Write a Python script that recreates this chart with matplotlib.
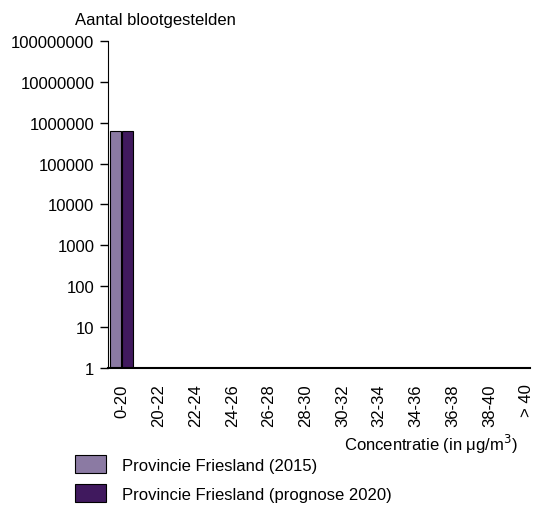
import numpy as np
import matplotlib.pyplot as plt
from matplotlib.patches import Patch

plt.rcParams['font.family'] = ['Liberation Sans', 'DejaVu Sans']

categories = ["0-20", "20-22", "22-24", "24-26", "26-28", "28-30",
              "30-32", "32-34", "34-36", "36-38", "38-40", "> 40"]
fries_2015 = [640000, 0, 0, 0, 0, 0, 0, 0, 0, 0, 0, 0]
fries_2020 = [640000, 0, 0, 0, 0, 0, 0, 0, 0, 0, 0, 0]
yticks = [1, 10, 100, 1000, 10000, 100000, 1000000, 10000000, 100000000]

c2015 = "#8b7aa3"
c2020 = "#40195e"

fig = plt.figure(figsize=(5.33, 5.06), dpi=100)
ax = fig.add_axes([0.203, 0.271, 0.791, 0.646])

x = np.arange(len(categories))
w = 0.30
ax.bar(x - w / 2 - 0.03, fries_2015, width=w, color=c2015, edgecolor="black", linewidth=0.8)
ax.bar(x + w / 2 - 0.01, fries_2020, width=w, color=c2020, edgecolor="black", linewidth=0.8)

ax.set_yscale("log")
ax.set_ylim(1, 100000000)
ax.set_yticks(yticks)
ax.set_yticklabels([str(v) for v in yticks], fontsize=12)
ax.minorticks_off()
ax.set_xlim(-0.38, 11.1)
ax.set_xticks(x)
ax.set_xticklabels(categories, rotation=90, fontsize=12)
ax.tick_params(axis="x", length=0, pad=11)
ax.tick_params(axis="y", length=6, width=1, pad=4)

for s in ["top", "right"]:
    ax.spines[s].set_visible(False)
ax.spines["bottom"].set_linewidth(1.5)

fig.text(0.141, 0.96, "Aantal blootgestelden", fontsize=12, ha="left", va="center")
fig.text(0.972, 0.121, "Concentratie (in μg/m$^3$)", fontsize=12, ha="right", va="center")

handles = [Patch(facecolor=c2015, edgecolor="black", linewidth=0.8, label="Provincie Friesland (2015)"),
           Patch(facecolor=c2020, edgecolor="black", linewidth=0.8, label="Provincie Friesland (prognose 2020)")]
fig.legend(handles=handles, loc="upper left", bbox_to_anchor=(0.141, 0.099), frameon=False,
           fontsize=12, handlelength=1.86, handleheight=1.3, labelspacing=0.65, handletextpad=0.96,
           borderaxespad=0, borderpad=0)

fig.savefig("out.png", dpi=100)
